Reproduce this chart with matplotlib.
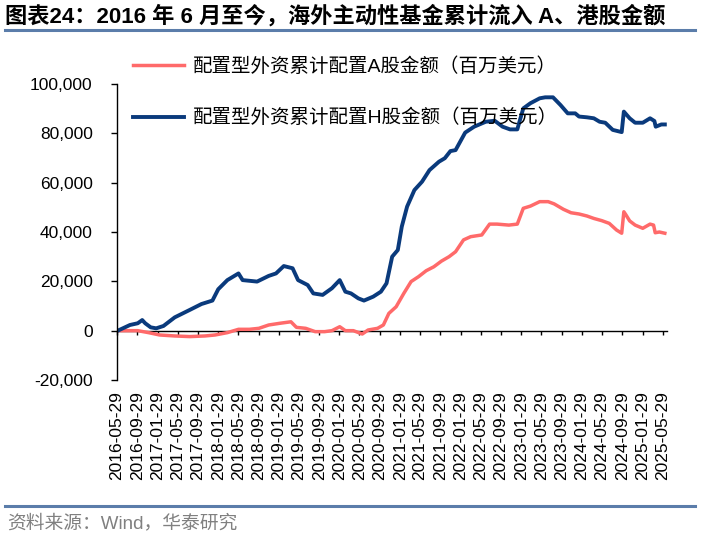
import pandas as pd
import matplotlib.pyplot as plt
from matplotlib.lines import Line2D
from matplotlib.ticker import FuncFormatter

# 配置型外资累计配置A股金额（百万美元）
a_dates = ["2016-06-03", "2016-10-01", "2016-12-05", "2017-02-10", "2017-05-12",
           "2017-08-10", "2017-11-10", "2018-01-10", "2018-03-25", "2018-05-31",
           "2018-08-05", "2018-10-01", "2018-11-29", "2019-02-05", "2019-04-12",
           "2019-05-15", "2019-07-10", "2019-09-05", "2019-11-01", "2019-12-15",
           "2020-01-31", "2020-03-05", "2020-04-22", "2020-06-15", "2020-07-20",
           "2020-09-15", "2020-10-20", "2020-11-22", "2021-01-05", "2021-02-20",
           "2021-04-05", "2021-05-20", "2021-07-05", "2021-08-20", "2021-10-05",
           "2021-11-20", "2021-12-29", "2022-02-15", "2022-03-30", "2022-06-05",
           "2022-07-22", "2022-09-05", "2022-11-15", "2023-01-05", "2023-02-10",
           "2023-03-25", "2023-05-20", "2023-07-10", "2023-08-15", "2023-10-10",
           "2023-11-25", "2024-01-12", "2024-02-28", "2024-04-10", "2024-05-28",
           "2024-07-12", "2024-08-25", "2024-09-25", "2024-10-08", "2024-10-20",
           "2024-11-12", "2024-12-15", "2025-01-30", "2025-03-15", "2025-04-05",
           "2025-04-15", "2025-05-10", "2025-06-12"]
a_values = [0, 0, -800, -1750, -2150,
            -2400, -2150, -1750, -800, 550,
            550, 950, 2300, 3000, 3600,
            1350, 950, -400, -400, 0,
            1600, 0, 0, -1350, 270,
            950, 2300, 7000, 9700, 15100,
            19900, 21900, 24300, 25900, 28200,
            30000, 32000, 36800, 38100, 38800,
            43200, 43200, 42800, 43200, 49600,
            50500, 52300, 52300, 51400, 49200,
            47800, 47300, 46500, 45500, 44600,
            43500, 40800, 39500, 48200, 47000,
            44500, 42800, 41500, 43200, 42800,
            39700, 40000, 39500]

# 配置型外资累计配置H股金额（百万美元）
h_dates = ["2016-06-03", "2016-08-15", "2016-10-01", "2016-10-28", "2016-11-15",
           "2016-12-18", "2017-01-20", "2017-03-05", "2017-05-12", "2017-08-10",
           "2017-10-20", "2017-12-25", "2018-01-29", "2018-03-25", "2018-05-31",
           "2018-06-25", "2018-09-20", "2018-11-29", "2019-01-12", "2019-02-28",
           "2019-04-22", "2019-05-25", "2019-07-22", "2019-08-25", "2019-10-20",
           "2019-12-15", "2020-01-31", "2020-03-05", "2020-04-08", "2020-05-22",
           "2020-06-25", "2020-08-20", "2020-10-05", "2020-11-08", "2020-12-12",
           "2021-01-15", "2021-02-08", "2021-03-12", "2021-04-25", "2021-06-10",
           "2021-07-25", "2021-09-20", "2021-10-25", "2021-11-28", "2021-12-29",
           "2022-02-25", "2022-04-20", "2022-06-29", "2022-08-22", "2022-10-08",
           "2022-11-22", "2023-01-05", "2023-02-10", "2023-03-25", "2023-05-20",
           "2023-06-22", "2023-08-08", "2023-09-22", "2023-11-05", "2023-12-20",
           "2024-01-12", "2024-02-28", "2024-04-10", "2024-05-15", "2024-06-18",
           "2024-08-02", "2024-09-25", "2024-10-08", "2024-11-12", "2024-12-15",
           "2025-01-30", "2025-03-15", "2025-04-10", "2025-04-18", "2025-05-22",
           "2025-06-12"]
h_values = [0, 2300, 3000, 4300, 3000,
            1350, 950, 1900, 5400, 8400,
            10800, 12200, 16800, 20500, 23200,
            20500, 19900, 22200, 23200, 26200,
            25300, 20500, 18500, 15100, 14500,
            17200, 20500, 15800, 15100, 13100,
            12200, 13800, 15800, 19200, 30000,
            32700, 42200, 50300, 57000, 60400,
            65100, 68500, 69900, 72800, 73200,
            80300, 82700, 84700, 85100, 82700,
            81600, 81600, 90100, 92200, 94200,
            94600, 94600, 91500, 88100, 88100,
            86800, 86500, 86100, 84700, 84300,
            81400, 80500, 88800, 86100, 84300,
            84300, 86100, 85000, 82700, 83600,
            83600]

a_label = "配置型外资累计配置A股金额（百万美元）"
h_label = "配置型外资累计配置H股金额（百万美元）"
title = "图表24：2016 年 6 月至今，海外主动性基金累计流入 A、港股金额"
source = "资料来源：Wind，华泰研究"

tick_dates = [pd.Timestamp("2016-05-29") + pd.DateOffset(months=4 * i) for i in range(28)]
tick_labels = [d.strftime("%Y-%m-%d") for d in tick_dates]

cjk = ["Liberation Sans", "Noto Sans CJK SC"]
plt.rcParams["font.family"] = cjk

W, H = 701, 548
fig = plt.figure(figsize=(W / 100, H / 100), dpi=100)
ax = fig.add_axes([117 / W, 1 - 380 / H, (667 - 117) / W, (380 - 84) / H])

ax.plot(pd.to_datetime(a_dates), a_values, color="#FF6A6A", lw=2.5,
        solid_joinstyle="round", label=a_label)
ax.plot(pd.to_datetime(h_dates), h_values, color="#0A3A7C", lw=2.8,
        solid_joinstyle="round", label=h_label)

ax.set_ylim(-20000, 100000)
ax.set_yticks(range(-20000, 100001, 20000))
ax.yaxis.set_major_formatter(FuncFormatter(lambda v, p: f"{int(v):,}"))
ax.set_xlim(pd.Timestamp("2016-05-29"), pd.Timestamp("2025-06-25"))
ax.set_xticks(tick_dates)
ax.set_xticklabels(tick_labels, rotation=90, fontsize=12.5)
ax.tick_params(axis="x", length=0, pad=8)
ax.tick_params(axis="y", direction="out", length=4.5, width=1, pad=13, labelsize=12.5)

for s in ["top", "right", "bottom"]:
    ax.spines[s].set_visible(False)
ax.spines["left"].set_linewidth(1)

# axis line with small ticks at the zero level
zero = ax.secondary_xaxis(1 / 6)
zero.set_xticks(tick_dates)
zero.set_xticklabels([])
zero.tick_params(direction="out", length=3, width=1)
zero.spines["bottom"].set_linewidth(1)

fig.legend(loc="upper left", bbox_to_anchor=(133 / W, 1 - 57 / H), frameon=False,
           borderpad=0, borderaxespad=0, handlelength=2.6, handletextpad=0.5,
           labelspacing=1.7, prop={"family": cjk, "size": 14})

fig.text(5 / W, 1 - 16 / H, title, fontsize=16, fontweight="bold", va="center", ha="left")
rule = "#5B7DAA"
fig.add_artist(Line2D([5 / W, 695 / W], [1 - 30 / H] * 2, color=rule, lw=2.2, transform=fig.transFigure))
fig.add_artist(Line2D([5 / W, 695 / W], [1 - 506 / H] * 2, color=rule, lw=2.2, transform=fig.transFigure))
fig.text(7 / W, 1 - 523 / H, source, fontsize=13.5, color="#808080", va="center", ha="left")

fig.savefig("out.png", dpi=100)
